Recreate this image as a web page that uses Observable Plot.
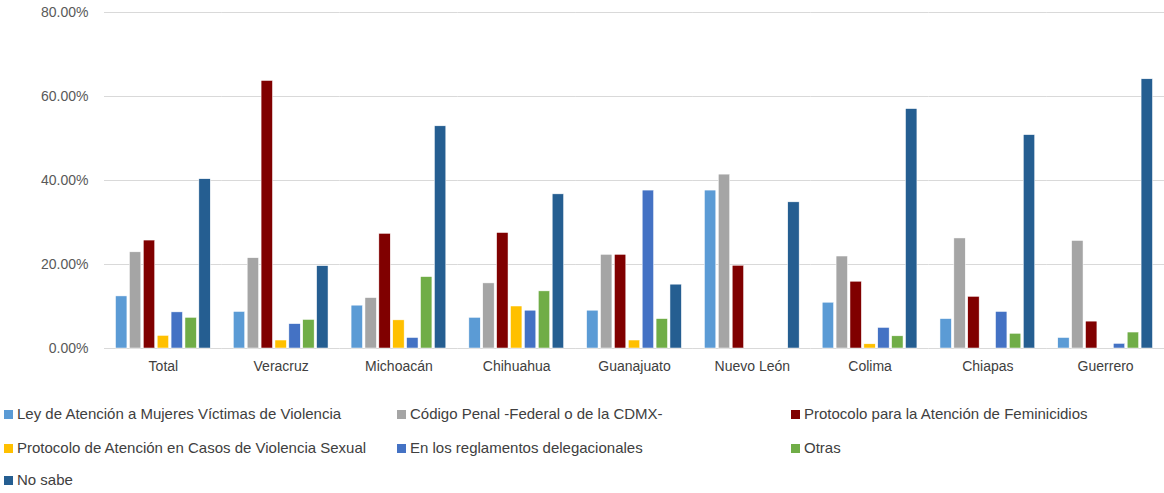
<!DOCTYPE html>
<html>
<head>
<meta charset="utf-8">
<script src="https://cdn.jsdelivr.net/npm/d3@7"></script>
<script src="https://cdn.jsdelivr.net/npm/@observablehq/plot@0.6"></script>
<style>
  body { margin: 0; background: #fff; font-family: "Liberation Sans", Arial, sans-serif; }
  #wrap { position: relative; width: 1164px; height: 493px; }
  #legend { position: absolute; left: 0; top: 404px; width: 1164px; }
  .item { position: absolute; font-size: 15px; color: #404040; white-space: nowrap; line-height: 20px; }
  .sw { display: inline-block; width: 9px; height: 9px; margin-right: 4px; vertical-align: 0px; }
</style>
</head>
<body>
<div id="wrap"><div id="chart"></div><div id="legend"></div></div>
<script>
const categories = ["Total","Veracruz","Michoacán","Chihuahua","Guanajuato","Nuevo León","Colima","Chiapas","Guerrero"];
const seriesNames = [
  "Ley de Atención a Mujeres Víctimas de Violencia",
  "Código Penal -Federal o de la CDMX-",
  "Protocolo para la Atención de Feminicidios",
  "Protocolo de Atención en Casos de Violencia Sexual",
  "En los reglamentos delegacionales",
  "Otras",
  "No sabe"
];
const seriesColors = ["#5B9BD5","#A5A5A5","#800000","#FFC000","#4472C4","#70AD47","#255E91"];
// values in percent, per series, in order of categories
const leyAtencion   = [12.4, 8.7, 10.2, 7.3, 9.0, 37.6, 10.9, 7.0, 2.5];
const codigoPenal   = [22.9, 21.5, 12.0, 15.5, 22.3, 41.4, 21.9, 26.2, 25.6];
const protFeminic   = [25.7, 63.7, 27.3, 27.5, 22.3, 19.7, 15.9, 12.3, 6.4];
const protViolSex   = [3.0, 1.9, 6.7, 10.0, 1.9, 0, 1.0, 0, 0];
const reglamentos   = [8.6, 5.8, 2.5, 9.0, 37.6, 0, 4.9, 8.7, 1.1];
const otras         = [7.3, 6.8, 17.0, 13.6, 7.0, 0, 2.9, 3.5, 3.8];
const noSabe        = [40.3, 19.6, 52.9, 36.7, 15.2, 34.8, 57.0, 50.8, 64.1];
const yTicks = [0, 20, 40, 60, 80];

const seriesValues = [leyAtencion, codigoPenal, protFeminic, protViolSex, reglamentos, otras, noSabe];
const data = [];
categories.forEach((c, i) => {
  seriesNames.forEach((s, j) => {
    data.push({category: c, series: s, value: seriesValues[j][i]});
  });
});

const chart = Plot.plot({
  width: 1164,
  height: 385,
  marginLeft: 104,
  marginRight: 0,
  marginTop: 12,
  marginBottom: 37,
  style: {fontFamily: "'Liberation Sans', Arial, sans-serif", fontSize: "14px", color: "#595959", background: "white"},
  fx: {domain: categories, padding: 0, round: false, label: null},
  x: {domain: seriesNames, paddingInner: 0.18, paddingOuter: 0.83, round: false, axis: null},
  y: {domain: [0, 80], ticks: yTicks, label: null},
  color: {domain: seriesNames, range: seriesColors},
  marks: [
    Plot.gridY(yTicks, {stroke: "#d9d9d9", strokeOpacity: 1, strokeWidth: 1}),
    Plot.axisY(yTicks, {tickSize: 0, tickPadding: 16, label: null, tickFormat: d => d.toFixed(2) + "%", fill: "#595959", fontSize: 14}),
    Plot.axisFx({anchor: "bottom", tickSize: 0, tickPadding: 13, label: null, fill: "#404040", fontSize: 14}),
    Plot.barY(data.filter(d => d.value > 0), {fx: "category", x: "series", y: "value", fill: "series", stroke: "white", strokeWidth: 0.5})
  ]
});
document.getElementById("chart").appendChild(chart);

const legend = document.getElementById("legend");
const colLeft = [4, 397, 791];
const rowTop = [0, 34, 66];
seriesNames.forEach((s, i) => {
  const el = document.createElement("div");
  el.className = "item";
  el.style.left = colLeft[i % 3] + "px";
  el.style.top = rowTop[Math.floor(i / 3)] + "px";
  const sw = document.createElement("span");
  sw.className = "sw";
  sw.style.background = seriesColors[i];
  el.appendChild(sw);
  el.appendChild(document.createTextNode(s));
  legend.appendChild(el);
});
</script>
</body>
</html>
